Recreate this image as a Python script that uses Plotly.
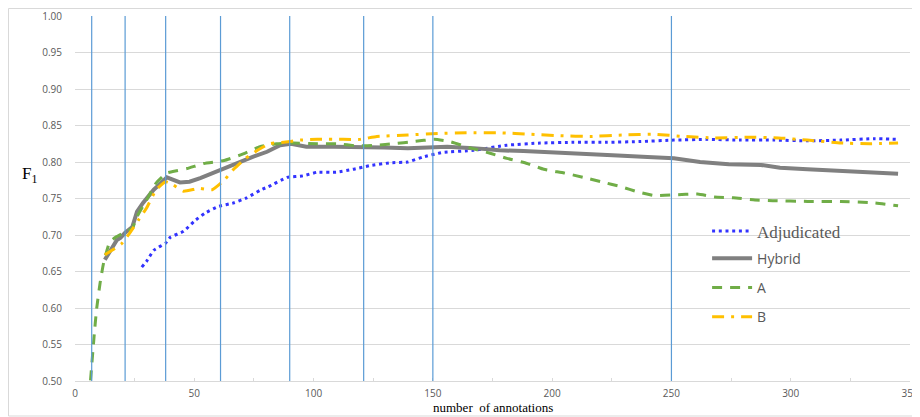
import plotly.graph_objects as go

# ---- data ----
adj_x = [28, 30, 33, 38, 40, 45.5, 50, 54.5, 60, 66.5, 72, 78, 81, 89, 95.5, 101.5, 109.5, 116.5, 123.5, 132.5, 139.5, 146, 154, 167, 181, 195, 209, 223, 237, 251, 265, 279, 293, 307, 321, 335, 345]
adj_y = [0.656, 0.664, 0.679, 0.689, 0.697, 0.705, 0.719, 0.730, 0.739, 0.744, 0.751, 0.762, 0.766, 0.779, 0.781, 0.786, 0.786, 0.790, 0.795, 0.799, 0.800, 0.807, 0.813, 0.816, 0.823, 0.826, 0.827, 0.827, 0.828, 0.830, 0.831, 0.830, 0.830, 0.829, 0.830, 0.832, 0.831]

hyb_x = [12.5, 15, 17.5, 19, 21, 24, 26, 28.5, 33, 36, 38.5, 44, 48, 52.5, 60.5, 67.5, 74.5, 80.5, 86, 90.5, 97, 108.5, 119.5, 129.5, 139.5, 150.5, 156, 167, 178, 188, 199, 212, 227.5, 240, 251, 262, 274, 287.5, 295.5, 307, 321, 335, 345]
hyb_y = [0.666, 0.680, 0.693, 0.696, 0.703, 0.711, 0.732, 0.744, 0.762, 0.771, 0.779, 0.772, 0.773, 0.778, 0.789, 0.798, 0.807, 0.814, 0.823, 0.825, 0.821, 0.821, 0.821, 0.820, 0.819, 0.821, 0.821, 0.819, 0.816, 0.815, 0.813, 0.812, 0.809, 0.807, 0.805, 0.800, 0.797, 0.796, 0.792, 0.790, 0.788, 0.785, 0.784]

a_x = [6.5, 8, 9, 10.5, 12, 14.5, 17, 21, 24, 26, 30, 34, 38.5, 41, 47, 54, 62.5, 70.5, 77.5, 84.5, 91.5, 101.5, 109.5, 118.5, 126.5, 133.5, 142, 150.5, 157, 166, 174, 181, 189.5, 196.5, 205, 213, 220.5, 229, 236, 243, 251, 261, 268, 276, 285, 292.5, 307, 321, 335, 345]
a_y = [0.501, 0.561, 0.597, 0.634, 0.662, 0.690, 0.697, 0.704, 0.709, 0.725, 0.748, 0.771, 0.785, 0.787, 0.791, 0.798, 0.802, 0.811, 0.821, 0.825, 0.826, 0.825, 0.825, 0.822, 0.823, 0.825, 0.828, 0.831, 0.828, 0.819, 0.812, 0.805, 0.798, 0.790, 0.785, 0.779, 0.773, 0.766, 0.759, 0.754, 0.755, 0.756, 0.752, 0.751, 0.748, 0.747, 0.746, 0.746, 0.744, 0.740]

b_x = [12.5, 15.5, 19.5, 23, 26.5, 30, 34, 38, 41, 45.5, 52, 57.5, 62.5, 66.5, 71.5, 76.5, 81.5, 87.5, 94.5, 101.5, 112.5, 119.5, 126.5, 139.5, 152, 164, 178, 191, 203.5, 216, 230, 243, 255, 268, 282, 295, 307, 321, 333, 345]
b_y = [0.673, 0.679, 0.688, 0.703, 0.720, 0.737, 0.762, 0.773, 0.769, 0.760, 0.764, 0.762, 0.775, 0.790, 0.805, 0.816, 0.825, 0.827, 0.830, 0.831, 0.831, 0.831, 0.835, 0.837, 0.839, 0.840, 0.840, 0.838, 0.836, 0.835, 0.837, 0.838, 0.835, 0.833, 0.834, 0.833, 0.830, 0.826, 0.825, 0.826]

vlines_x = [7, 21, 38, 61, 90, 121, 150, 250]

x_ticks = [0, 50, 100, 150, 200, 250, 300, 350]
y_ticks = [0.50, 0.55, 0.60, 0.65, 0.70, 0.75, 0.80, 0.85, 0.90, 0.95, 1.00]

series_names = ["Adjudicated", "Hybrid", "A", "B"]

# ---- figure ----
fig = go.Figure()
fig.add_trace(go.Scatter(x=adj_x, y=adj_y, mode="lines", name=series_names[0], legend="legend2",
                         line=dict(color="#3333ff", width=3, dash="3px,3.7px", shape="spline", smoothing=0.4)))
fig.add_trace(go.Scatter(x=hyb_x, y=hyb_y, mode="lines", name=series_names[1], legendgroup="g2",
                         line=dict(color="#808080", width=4)))
fig.add_trace(go.Scatter(x=a_x, y=a_y, mode="lines", name=series_names[2], legendgroup="g3",
                         line=dict(color="#70ad47", width=3, dash="10px,8px", shape="spline", smoothing=0.4)))
fig.add_trace(go.Scatter(x=b_x, y=b_y, mode="lines", name=series_names[3], legendgroup="g4",
                         line=dict(color="#ffc000", width=3, dash="12px,7px,3px,7px", shape="spline", smoothing=0.4)))

shapes = []
for vx in vlines_x:
    shapes.append(dict(type="line", xref="x", yref="paper", x0=vx, x1=vx, y0=0, y1=1,
                       line=dict(color="#5b9bd5", width=1.2), layer="above"))
# outer chart frame
shapes.append(dict(type="rect", xref="paper", yref="paper",
                   x0=-66.5 / 835, x1=1.2, y0=-35 / 365, y1=372.5 / 365,
                   line=dict(color="#d9d9d9", width=1), layer="below"))

fig.update_layout(
    width=920, height=417,
    margin=dict(l=67, r=18, t=8, b=44),
    paper_bgcolor="white", plot_bgcolor="white",
    showlegend=True,
    legend=dict(x=0.757, y=0.379, xanchor="left", yanchor="top",
                bgcolor="rgba(0,0,0,0)", font=dict(family="Open Sans", size=14, color="#595959"),
                tracegroupgap=8, itemwidth=40),
    legend2=dict(x=0.757, y=0.459, xanchor="left", yanchor="top",
                 bgcolor="rgba(0,0,0,0)", font=dict(family="Liberation Serif", size=17, color="#595959"),
                 itemwidth=40),
    shapes=shapes,
    annotations=[
        dict(text="F<sub>1</sub>", xref="paper", yref="paper", x=-0.066, y=0.565,
             xanchor="left", yanchor="middle",
             showarrow=False, font=dict(family="Liberation Serif", size=17, color="#000000")),
        dict(text="number  of annotations", xref="paper", yref="paper", x=0.5, y=-0.072,
             xanchor="center", yanchor="middle",
             showarrow=False, font=dict(family="Liberation Serif", size=13, color="#000000")),
    ],
)
fig.update_xaxes(range=[0, 350], tickvals=x_ticks, showgrid=False, zeroline=False,
                 showline=True, linecolor="#d9d9d9", linewidth=1,
                 ticks="inside", ticklen=3, tickcolor="#d9d9d9",
                 minor=dict(dtick=25, ticks="inside", ticklen=3, tickcolor="#d9d9d9"),
                 tickfont=dict(family="Open Sans", size=10, color="#595959"),
                 ticklabelstandoff=3, ticklabeloverflow="allow", automargin=False)
fig.update_yaxes(range=[0.5, 1.0], tickvals=y_ticks, tickformat=".2f",
                 showgrid=True, gridcolor="#d9d9d9", gridwidth=1, zeroline=False,
                 showline=False, ticks="",
                 tickfont=dict(family="Open Sans", size=10, color="#595959"),
                 ticklabelstandoff=12, automargin=False)

fig.write_html("out.html")
